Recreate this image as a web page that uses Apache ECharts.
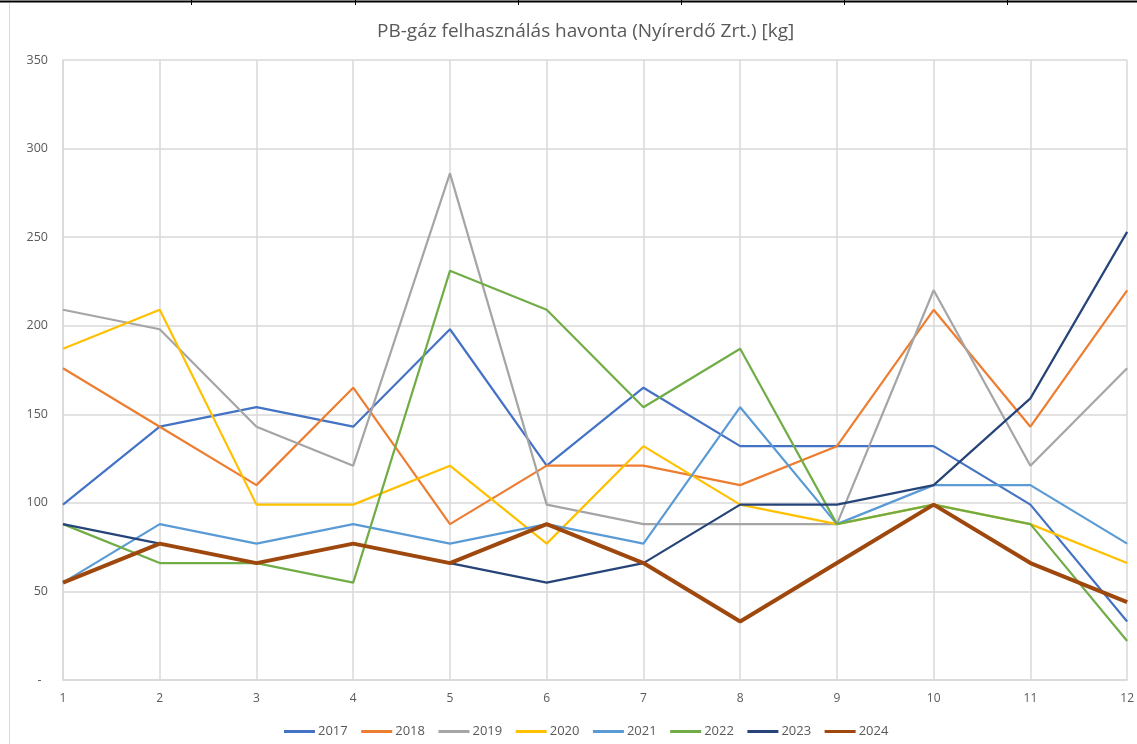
<!DOCTYPE html>
<html>
<head>
<meta charset="utf-8">
<style>
	html, body {margin: 0; padding: 0; background: #fff;}
	#chart {width: 1137px; height: 744px;}
</style>
<script src="https://cdn.jsdelivr.net/npm/echarts@6/dist/echarts.min.js"></script>
</head>
<body>
<div id="chart"></div>
<script>
//	data
var months = ['1', '2', '3', '4', '5', '6', '7', '8', '9', '10', '11', '12'];
var years = ['2017', '2018', '2019', '2020', '2021', '2022', '2023', '2024'];

var y2017 = [99, 143, 154, 143, 198, 121, 165, 132, 132, 132, 99, 33];
var y2018 = [176, 143, 110, 165, 88, 121, 121, 110, 132, 209, 143, 220];
var y2019 = [209, 198, 143, 121, 286, 99, 88, 88, 88, 220, 121, 176];
var y2020 = [187, 209, 99, 99, 121, 77, 132, 99, 88, 99, 88, 66];
var y2021 = [55, 88, 77, 88, 77, 88, 77, 154, 88, 110, 110, 77];
var y2022 = [88, 66, 66, 55, 231, 209, 154, 187, 88, 99, 88, 22];
var y2023 = [88, 77, 66, 77, 66, 55, 66, 99, 99, 110, 159, 253];
var y2024 = [55, 77, 66, 77, 66, 88, 66, 33, 66, 99, 66, 44];

var values = [y2017, y2018, y2019, y2020, y2021, y2022, y2023, y2024];
var colors = ['#4472C4', '#ED7D31', '#A5A5A5', '#FFC000', '#5B9BD5', '#70AD47', '#264478', '#9E480E'];

var series = [];
for(var i=0; i<years.length; i++) {
	series.push({
		name: years[i],
		type: 'line',
		data: values[i],
		symbol: 'none',
		lineStyle: {width: i == 7 ? 4 : 2.2, color: colors[i]},
		itemStyle: {color: colors[i]},
		z: i == 7 ? 5 : 2
	});
}

//	bits of the spreadsheet frame around the chart
var frame = [
	{type: 'line', shape: {x1: 0, y1: 1.5, x2: 1137, y2: 1.5}, style: {stroke: '#000', lineWidth: 2}},
	{type: 'line', shape: {x1: 9.5, y1: 3, x2: 9.5, y2: 744}, style: {stroke: '#d9d9d9', lineWidth: 1}}
];
var tickX = [191, 355, 518, 681, 844, 1007];
for(var i=0; i<tickX.length; i++) {
	frame.push({type: 'line', shape: {x1: tickX[i] + 0.5, y1: 0, x2: tickX[i] + 0.5, y2: 5}, style: {stroke: '#000', lineWidth: 1}});
}

var myChart = echarts.init(document.getElementById('chart'));
var option = {
	animation: false,
	title: {
		text: 'PB-gáz felhasználás havonta (Nyírerdő Zrt.) [kg]',
		left: 372,
		top: 17,
		textStyle: {fontFamily: 'Open Sans', fontSize: 19, fontWeight: 'normal', color: '#595959'}
	},
	legend: {
		data: years,
		bottom: 1,
		left: 279,
		icon: 'rect',
		itemWidth: 31,
		itemHeight: 3,
		itemGap: 13.5,
		textStyle: {fontFamily: 'Open Sans', fontSize: 13, color: '#595959', padding: [0, 0, 0, -2]}
	},
	grid: {
		left: 63,
		right: 5,
		top: 60,
		bottom: 64
	},
	xAxis: {
		type: 'category',
		boundaryGap: false,
		data: months,
		axisLine: {lineStyle: {color: '#d9d9d9', width: 1.5}},
		axisTick: {show: false},
		axisLabel: {color: '#595959', fontFamily: 'Open Sans', fontSize: 12, margin: 13},
		splitLine: {show: true, lineStyle: {color: '#d9d9d9', width: 1.5}}
	},
	yAxis: {
		type: 'value',
		min: 0,
		max: 350,
		interval: 50,
		axisLine: {show: true, lineStyle: {color: '#d9d9d9', width: 1.5}},
		axisTick: {show: false},
		axisLabel: {
			color: '#595959', fontFamily: 'Open Sans', fontSize: 12.5, margin: 15,
			formatter: function(v) { return v == 0 ? '-  ' : v; }
		},
		splitLine: {lineStyle: {color: '#d9d9d9', width: 1.5}}
	},
	graphic: frame,
	series: series
};
myChart.setOption(option);
</script>
</body>
</html>
